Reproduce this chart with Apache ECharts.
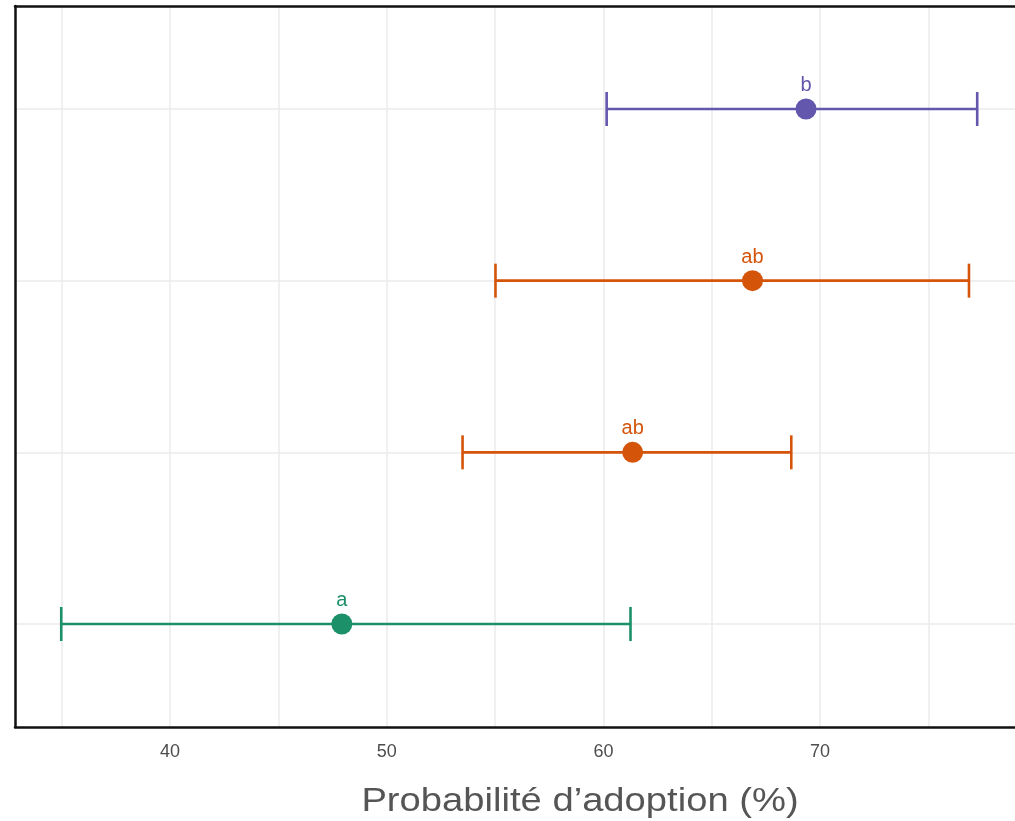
<!DOCTYPE html>
<html><head><meta charset="utf-8">
<script src="https://cdn.jsdelivr.net/npm/echarts@6/dist/echarts.min.js"></script>
<style>html,body{margin:0;padding:0;background:#fff}#c{width:1015px;height:821px}</style>
</head><body><div id="c"></div>
<script>
const rowPos = [1, 2, 3, 4];
const estimates = [47.93, 61.35, 66.88, 69.35];
const lower = [34.98, 53.5, 55.02, 60.15];
const upper = [61.25, 68.67, 76.87, 77.25];
const letters = ['a', 'ab', 'ab', 'b'];
const colors = ['#1b9069', '#d4540a', '#d4540a', '#6257ad'];
const xTickValues = [35, 40, 45, 50, 55, 60, 65, 70, 75];
const xLabelValues = [40, 50, 60, 70];
const xTitle = 'Probabilité d’adoption (%)';

const chart = echarts.init(document.getElementById('c'), null, {renderer: 'canvas'});
const font = 'Liberation Sans, Arial, sans-serif';
const border = {show: true, onZero: false, lineStyle: {color: '#111', width: 2.5}};
chart.setOption({
  animation: false,
  grid: {left: 15, top: 6, right: 0, bottom: 94},
  xAxis: [{
    type: 'value', min: 32.847, max: 78.994,
    axisLine: border,
    axisTick: {show: false, customValues: xTickValues},
    axisLabel: {customValues: xLabelValues, color: '#4d4d4d', fontSize: 18, fontFamily: font, margin: 16},
    splitLine: {show: true, lineStyle: {color: '#ebebeb', width: 1.5}}
  }, {
    type: 'value', position: 'top', min: 32.847, max: 78.994,
    axisLine: border, axisTick: {show: false}, axisLabel: {show: false}, splitLine: {show: false}
  }],
  yAxis: {
    type: 'value', min: 0.4, max: 4.6,
    axisLine: border,
    axisTick: {show: false, customValues: rowPos},
    axisLabel: {show: false, customValues: rowPos},
    splitLine: {show: true, lineStyle: {color: '#ebebeb', width: 1.5}}
  },
  graphic: [{
    type: 'text', x: 580, y: 802, scaleX: 1.157, scaleY: 1,
    style: {text: xTitle, fill: '#555', font: '33px ' + font, x: 0, y: 0, align: 'center', verticalAlign: 'middle'}
  }],
  series: [{
    type: 'custom',
    data: rowPos.map((y, i) => [lower[i], upper[i], y, i]),
    renderItem: function (params, api) {
      const lo = api.coord([api.value(0), api.value(2)]);
      const hi = api.coord([api.value(1), api.value(2)]);
      const c = colors[api.value(3)];
      const h = 17;
      const st = {stroke: c, lineWidth: 2.6};
      return {type: 'group', children: [
        {type: 'line', shape: {x1: lo[0], y1: lo[1], x2: hi[0], y2: hi[1]}, style: st},
        {type: 'line', shape: {x1: lo[0], y1: lo[1] - h, x2: lo[0], y2: lo[1] + h}, style: st},
        {type: 'line', shape: {x1: hi[0], y1: hi[1] - h, x2: hi[0], y2: hi[1] + h}, style: st}
      ]};
    },
    z: 2
  }, {
    type: 'scatter',
    symbolSize: 21,
    z: 3,
    data: rowPos.map((y, i) => ({
      value: [estimates[i], y],
      itemStyle: {color: colors[i], opacity: 1},
      label: {show: true, position: 'top', distance: 3, formatter: letters[i], color: colors[i], fontSize: 20, fontFamily: font}
    }))
  }]
});
</script></body></html>
